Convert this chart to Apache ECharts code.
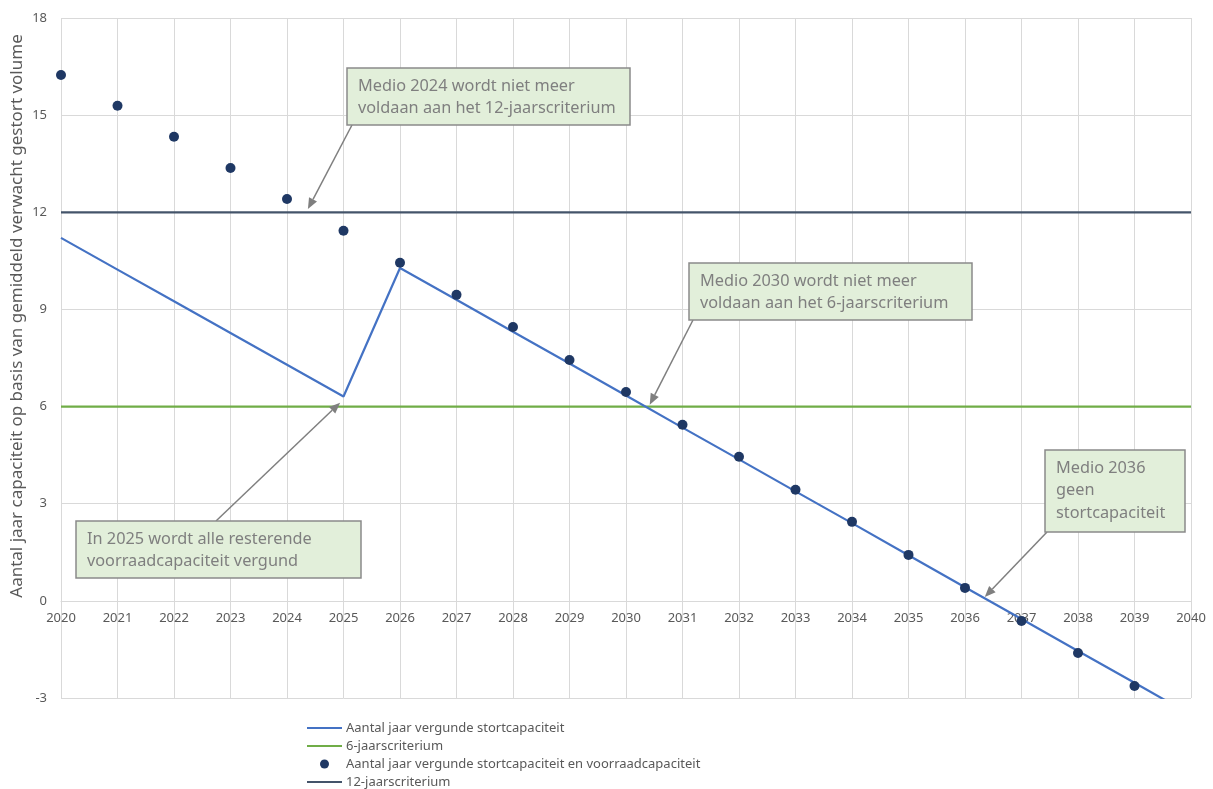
<!DOCTYPE html>
<html>
<head>
<meta charset="utf-8">
<script src="https://cdn.jsdelivr.net/npm/echarts@6/dist/echarts.min.js"></script>
<style>
  html, body { margin: 0; padding: 0; background: #fff; }
  #chart { width: 1213px; height: 789px; }
</style>
</head>
<body>
<div id="chart"></div>
<script>
// Years on the horizontal axis
const years = [2020, 2021, 2022, 2023, 2024, 2025, 2026, 2027, 2028, 2029, 2030,
               2031, 2032, 2033, 2034, 2035, 2036, 2037, 2038, 2039, 2040];

// Aantal jaar vergunde stortcapaciteit (2020 t/m 2040)
const vergund = [11.21, 10.23, 9.25, 8.27, 7.29, 6.31, 10.28, 9.30, 8.31, 7.33, 6.34,
                 5.35, 4.37, 3.38, 2.40, 1.41, 0.42, -0.56, -1.55, -2.53, -3.52];

// Aantal jaar vergunde stortcapaciteit en voorraadcapaciteit (2020 t/m 2039)
const vergundEnVoorraad = [16.24, 15.29, 14.33, 13.37, 12.41, 11.43, 10.44, 9.45, 8.46, 7.44,
                           6.45, 5.44, 4.45, 3.43, 2.44, 1.42, 0.40, -0.62, -1.61, -2.63];

// Criteria (years)
const criterium6 = 6;
const criterium12 = 12;

// Value axis range
const yMin = -3, yMax = 18, yStep = 3;
const xMin = 2020, xMax = 2040;

const seriesNames = [
  'Aantal jaar vergunde stortcapaciteit',
  '6-jaarscriterium',
  'Aantal jaar vergunde stortcapaciteit en voorraadcapaciteit',
  '12-jaarscriterium'
];

const yAxisTitle = 'Aantal jaar capaciteit op basis van gemiddeld verwacht gestort volume';

// Callouts: text, the data point the arrow points at, and the box layout (px)
const callouts = [
  { text: 'Medio 2024 wordt niet meer\nvoldaan aan het 12-jaarscriterium', tip: [2024.37, 12.1],
    box: { x: 347, y: 68, w: 283, h: 57 }, from: [352, 125] },
  { text: 'Medio 2030 wordt niet meer\nvoldaan aan het 6-jaarscriterium', tip: [2030.42, 6.06],
    box: { x: 689, y: 263, w: 283, h: 57 }, from: [693, 320] },
  { text: 'In 2025 wordt alle resterende\nvoorraadcapaciteit vergund', tip: [2024.94, 6.12],
    box: { x: 76, y: 521, w: 285, h: 57 }, from: [216, 521] },
  { text: 'Medio 2036\ngeen\nstortcapaciteit', tip: [2036.35, 0.12],
    box: { x: 1045, y: 450, w: 140, h: 82 }, from: [1047, 532] }
];

const FONT = '"Noto Sans", "Open Sans", sans-serif';
const TEXT_GREY = '#595959';
const COLORS = ['#4472C4', '#70AD47', '#1F3864', '#44546A'];

const chart = echarts.init(document.getElementById('chart'), null, { renderer: 'canvas' });

// Legend entries: plain line icons for the line series, a dot for the scatter series
const legendData = seriesNames.map((name, i) => (i === 2
  ? { name: name, icon: 'circle' }
  : { name: name, itemStyle: { color: 'rgba(0,0,0,0)', borderWidth: 0, opacity: 0 } }));

const option = {
  animation: false,
  backgroundColor: '#ffffff',
  textStyle: { fontFamily: FONT },
  grid: { left: 61, right: 22, top: 18, bottom: 91, containLabel: false },
  legend: {
    orient: 'vertical',
    left: 306,
    top: 721,
    itemWidth: 35,
    itemHeight: 9,
    itemGap: 4,
    padding: 0,
    data: legendData,
    textStyle: { fontFamily: FONT, fontSize: 13, lineHeight: 14, color: TEXT_GREY, padding: [0, 0, 0, -1] }
  },
  xAxis: {
    type: 'value',
    min: xMin,
    max: xMax,
    interval: 1,
    axisLine: { show: true, onZero: true, lineStyle: { color: '#d9d9d9', width: 1 } },
    axisTick: { show: false },
    axisLabel: {
      color: TEXT_GREY, fontSize: 13, fontFamily: FONT, margin: 11,
      formatter: v => String(v)
    },
    splitLine: { show: true, lineStyle: { color: '#d9d9d9', width: 1 } }
  },
  yAxis: {
    type: 'value',
    min: yMin,
    max: yMax,
    interval: yStep,
    axisLine: { show: false },
    axisTick: { show: false },
    axisLabel: { color: TEXT_GREY, fontSize: 13, fontFamily: FONT, margin: 14 },
    splitLine: { show: true, lineStyle: { color: '#d9d9d9', width: 1 } }
  },
  series: [
    {
      name: seriesNames[0],
      type: 'line',
      data: years.map((y, i) => [y, vergund[i]]),
      symbol: 'none',
      clip: true,
      lineStyle: { color: COLORS[0], width: 2.2 },
      itemStyle: { color: COLORS[0] },
      z: 3
    },
    {
      name: seriesNames[1],
      type: 'line',
      data: [[xMin, criterium6], [xMax, criterium6]],
      symbol: 'none',
      lineStyle: { color: COLORS[1], width: 2.2 },
      itemStyle: { color: COLORS[1] },
      z: 2
    },
    {
      name: seriesNames[2],
      type: 'scatter',
      data: vergundEnVoorraad.map((v, i) => [years[i], v]),
      symbol: 'circle',
      symbolSize: 10,
      itemStyle: { color: COLORS[2], opacity: 1 },
      z: 5
    },
    {
      name: seriesNames[3],
      type: 'line',
      data: [[xMin, criterium12], [xMax, criterium12]],
      symbol: 'none',
      lineStyle: { color: COLORS[3], width: 2.2 },
      itemStyle: { color: COLORS[3] },
      z: 2
    }
  ]
};

chart.setOption(option);

// Put the year axis (line and labels) on the zero line of the value axis
(function placeXAxisOnZero() {
  const rect = chart.getModel().getComponent('grid', 0).coordinateSystem.getRect();
  const yZero = chart.convertToPixel({ yAxisIndex: 0 }, 0);
  const bottomEdge = rect.y + rect.height;
  chart.setOption({ xAxis: { offset: -(bottomEdge - yZero) } });
})();

// Build the axis title, callout boxes and arrows once the axes are laid out
function buildGraphics() {
  const g = [];
  g.push({
    type: 'text',
    x: 17, y: 316,
    rotation: Math.PI / 2,
    z: 10,
    style: {
      text: yAxisTitle,
      font: '17px ' + FONT,
      fill: TEXT_GREY,
      align: 'center',
      verticalAlign: 'middle'
    }
  });

  callouts.forEach(c => {
    const tip = chart.convertToPixel({ gridIndex: 0 }, c.tip);
    const [sx, sy] = c.from;
    const dx = tip[0] - sx, dy = tip[1] - sy;
    const len = Math.sqrt(dx * dx + dy * dy);
    const ux = dx / len, uy = dy / len;
    const headLen = 11, headHalf = 4.5;
    const bx = tip[0] - ux * headLen, by = tip[1] - uy * headLen;
    const px = -uy, py = ux;

    g.push({
      type: 'line', z: 20,
      shape: { x1: sx, y1: sy, x2: bx, y2: by },
      style: { stroke: '#7f7f7f', lineWidth: 1.5 }
    });
    g.push({
      type: 'polygon', z: 20,
      shape: { points: [[tip[0], tip[1]], [bx + px * headHalf, by + py * headHalf], [bx - px * headHalf, by - py * headHalf]] },
      style: { fill: '#7f7f7f' }
    });
    g.push({
      type: 'rect', z: 21,
      shape: { x: c.box.x, y: c.box.y, width: c.box.w, height: c.box.h },
      style: { fill: '#e2efda', stroke: '#8a8a8a', lineWidth: 1.5 }
    });
    g.push({
      type: 'text', z: 22,
      x: c.box.x + 11, y: c.box.y + 7,
      style: {
        text: c.text,
        font: '16.3px ' + FONT,
        lineHeight: 22.5,
        fill: '#7f7f7f',
        align: 'left',
        verticalAlign: 'top'
      }
    });
  });
  chart.setOption({ graphic: g });
}
buildGraphics();
</script>
</body>
</html>
